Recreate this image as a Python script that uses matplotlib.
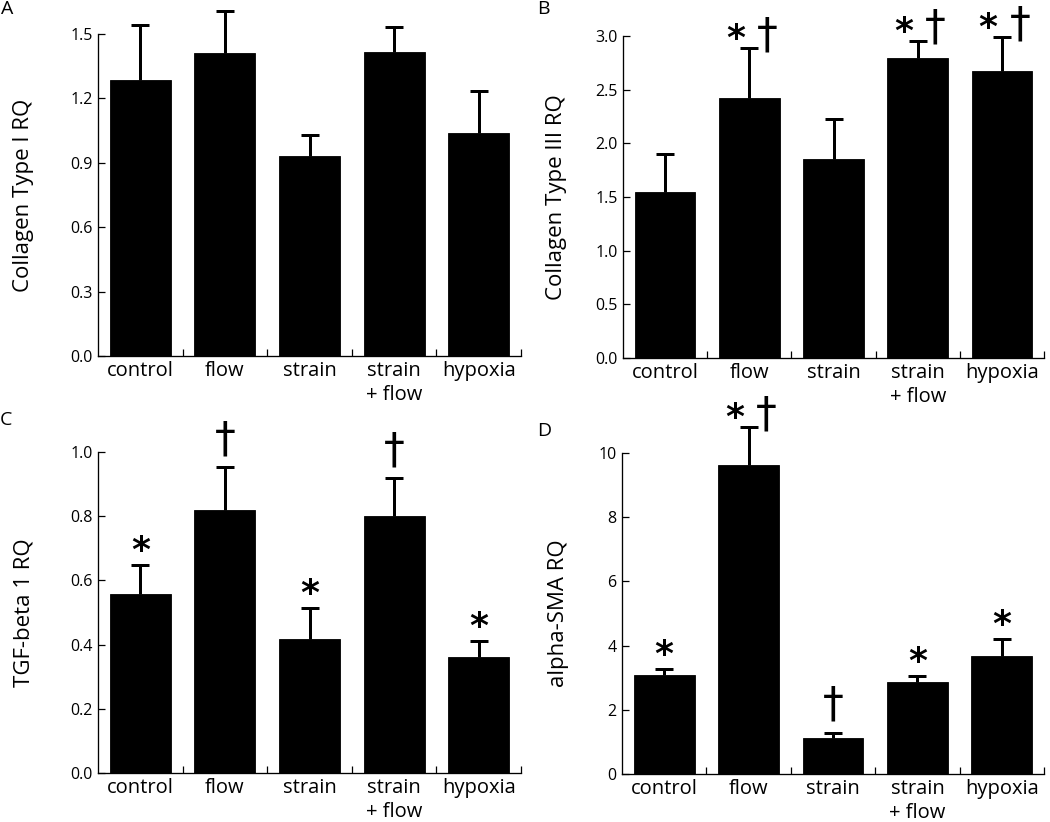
#!/usr/bin/env python3
"""Four-panel RQ bar chart (collagen I/III, TGF-beta 1, alpha-SMA) -> out.png"""
import matplotlib
matplotlib.use("Agg")
import matplotlib.pyplot as plt
import numpy as np

plt.rcParams["font.family"] = ["Open Sans", "DejaVu Sans"]

GROUPS = ["control", "flow", "strain", "strain\n+ flow", "hypoxia"]

# panel A - collagen type I
col1_mean = [1.287, 1.410, 0.932, 1.415, 1.040]
col1_err = [0.253, 0.199, 0.096, 0.116, 0.193]
col1_sig = ["", "", "", "", ""]

# panel B - collagen type III
col3_mean = [1.545, 2.426, 1.855, 2.796, 2.675]
col3_err = [0.351, 0.460, 0.370, 0.158, 0.313]
col3_sig = ["", "*†", "", "*†", "*†"]

# panel C - TGF-beta 1
tgf_mean = [0.558, 0.818, 0.419, 0.801, 0.361]
tgf_err = [0.091, 0.134, 0.094, 0.117, 0.051]
tgf_sig = ["*", "†", "*", "†", "*"]

# panel D - alpha-SMA
sma_mean = [3.07, 9.64, 1.11, 2.88, 3.67]
sma_err = [0.19, 1.16, 0.18, 0.16, 0.53]
sma_sig = ["*", "*†", "†", "*", "*"]

PX = 72.0 / 100  # points per pixel at dpi 100
STAR = dict(fontsize=26, family="DejaVu Sans", weight="bold", ha="center", va="baseline",
            textcoords="offset pixels", annotation_clip=False)
DAG = dict(fontsize=30, family="DejaVu Sans", ha="center", va="baseline",
           textcoords="offset pixels", annotation_clip=False)


def panel(fig, rect, letter, letter_xy, means, errs, sig, ylabel, yticks, fmt, label_x):
    ax = fig.add_axes(rect)
    x = np.arange(len(GROUPS))
    ax.bar(x, means, width=0.72, color="black", edgecolor="black", linewidth=0.6, zorder=3)
    eb = ax.errorbar(x, means, yerr=[np.zeros(len(errs)), errs], fmt="none", ecolor="black",
                     elinewidth=3 * PX, capsize=9 * PX, capthick=3 * PX, zorder=2)
    for c in eb.lines[1]:
        c.set_clip_on(False)
        # only the upper cap is wanted
        if np.allclose(c.get_ydata(), means):
            c.set_visible(False)
    for c in eb.lines[2]:
        c.set_clip_on(False)

    ax.set_xlim(-0.5, len(GROUPS) - 0.5)
    ax.set_ylim(0, yticks[-1])
    ax.spines["top"].set_visible(False)
    ax.spines["right"].set_visible(False)
    ax.spines["left"].set_linewidth(0.95)
    ax.spines["bottom"].set_linewidth(0.95)

    ax.set_yticks(yticks)
    ax.set_yticklabels([fmt.format(v) for v in yticks], fontsize=11.5)
    ax.tick_params(axis="y", direction="in", length=7 * PX, width=0.9, pad=4)

    ax.set_xticks(x)
    ax.set_xticklabels(GROUPS, fontsize=14.5, linespacing=1.25)
    ax.set_xticks(np.arange(len(GROUPS)) + 0.5, minor=True)
    ax.tick_params(axis="x", which="major", length=0, pad=3.5)
    ax.tick_params(axis="x", which="minor", direction="in", length=7 * PX, width=0.9)

    ax.set_ylabel(ylabel, fontsize=16)
    ax.yaxis.set_label_coords(label_x, 0.5)

    # significance markers above the error caps
    for i, s in enumerate(sig):
        top = means[i] + errs[i]
        if s == "*†":
            ax.annotate("*", (i, top), xytext=(-14, -1), **STAR)
            ax.annotate("†", (i, top), xytext=(18, 1), **DAG)
        elif s == "*":
            ax.annotate("*", (i, top), xytext=(0, 4), **STAR)
        elif s == "†":
            ax.annotate("†", (i, top), xytext=(0, 16), **DAG)

    fig.text(letter_xy[0] / 1050, 1 - letter_xy[1] / 822, letter, fontsize=14,
             ha="left", va="top")
    return ax


def main():
    fig = plt.figure(figsize=(10.5, 8.22), dpi=100)
    W, H = 1050.0, 822.0

    panel(fig, [98 / W, (H - 356) / H, 423 / W, 322 / H], "A", (1, 0),
          col1_mean, col1_err, col1_sig, "Collagen Type I RQ",
          [0.0, 0.3, 0.6, 0.9, 1.2, 1.5], "{:.1f}", -0.151)
    panel(fig, [623 / W, (H - 358) / H, 421 / W, 322 / H], "B", (537, 0),
          col3_mean, col3_err, col3_sig, "Collagen Type III RQ",
          [0.0, 0.5, 1.0, 1.5, 2.0, 2.5, 3.0], "{:.1f}", -0.133)
    panel(fig, [98 / W, (H - 773) / H, 423 / W, 321 / H], "C", (0, 411),
          tgf_mean, tgf_err, tgf_sig, "TGF-beta 1 RQ",
          [0.0, 0.2, 0.4, 0.6, 0.8, 1.0], "{:.1f}", -0.151)
    panel(fig, [622 / W, (H - 774) / H, 422 / W, 321 / H], "D", (537, 422),
          sma_mean, sma_err, sma_sig, "alpha-SMA RQ",
          [0, 2, 4, 6, 8, 10], "{:d}", -0.126)

    fig.savefig("out.png", dpi=100, facecolor="white")


if __name__ == "__main__":
    main()
